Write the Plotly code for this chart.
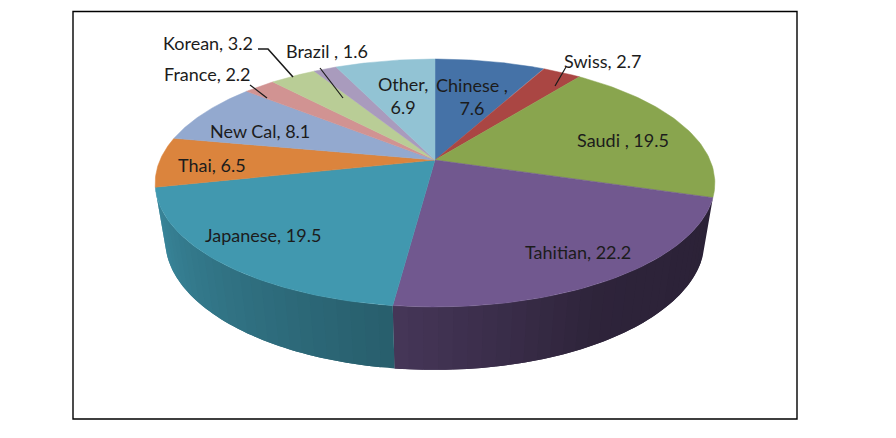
import numpy as np
import plotly.graph_objects as go

# slices, clockwise from 12 o'clock
names = ["Chinese ,", "Swiss,", "Saudi ,", "Tahitian,", "Japanese,", "Thai,",
         "New Cal,", "France,", "Korean,", "Brazil ,", "Other,"]
values = [7.6, 2.7, 19.5, 22.2, 19.5, 6.5, 8.1, 2.2, 3.2, 1.6, 6.9]
colors = ["#4572A7", "#AA4643", "#89A54E", "#71588F", "#4198AF", "#DB843D",
          "#93A9CF", "#D19392", "#B9CD96", "#A99BBD", "#92C3D4"]

# label centres in pixels, same order as names
label_x = [472, 602, 623, 578, 263, 212, 260, 207, 208, 327, 403]
label_y = [96, 61, 140, 252, 235, 165, 131, 74, 43, 51, 95]
line_break = [True, False, False, False, False, False, False, False, False, False, True]

# only these two slices show their side wall
side_slices = ["Tahitian,", "Japanese,"]

# perspective of the pie, fitted to the picture
CX, CY = 435, 160
A, B = 275, 119.7
K = 0.1855   # tilt
H, M = 58.8, 0.036   # thickness and its convergence


def project(theta, z=0.0):
    u, v = np.sin(theta), np.cos(theta)
    w = 1 + K * v + M * z
    return CX + A * u / w, CY + (-B * v + H * z) / w


def shade(hex_color, f):
    r, g, b = [int(hex_color[i:i + 2], 16) for i in (1, 3, 5)]
    return "rgb(%d,%d,%d)" % (r * f, g * f, b * f)


fig = go.Figure()

edges = np.radians(np.cumsum([0] + values) * 3.6)

# side wall, in narrow bands so the shading steps like the original
# each band runs on under the next one, otherwise white seams show
for i, col in enumerate(colors):
    if names[i] not in side_slices:
        continue
    start, end = edges[i], edges[i + 1]
    steps = int(np.degrees(end - start) / 2.5)
    t = np.linspace(start, end, steps + 1)
    for j in range(steps):
        a = t[j]
        b = t[min(j + 2, steps)]
        f = np.interp(np.degrees((t[j] + t[j + 1]) / 2), [100, 150, 187, 258], [0.38, 0.41, 0.62, 0.9])
        arc = np.linspace(a, b, 5)
        x0, y0 = project(arc)
        x1, y1 = project(arc[::-1], 1.0)
        fig.add_trace(go.Scatter(
            x=np.concatenate([x0, x1]), y=np.concatenate([y0, y1]),
            mode="none", fill="toself", fillcolor=shade(col, f),
            hoverinfo="skip", showlegend=False))

# top face
for i, col in enumerate(colors):
    arc = np.linspace(edges[i], edges[i + 1], 60)
    x, y = project(arc)
    fig.add_trace(go.Scatter(
        x=np.concatenate([[CX], x, [CX]]), y=np.concatenate([[CY], y, [CY]]),
        mode="lines", fill="toself", fillcolor=col,
        line=dict(color=col, width=0.5),
        name=names[i], hoverinfo="name", showlegend=False))

# leader lines
leaders = [
    ([258, 268, 293], [49, 49, 77], 1.6),
    ([250, 267], [85, 98], 1.2),
    ([320, 343], [68, 98], 1.2),
    ([566, 555], [67, 86], 1.2),
]
for lx, ly, lw in leaders:
    fig.add_trace(go.Scatter(x=lx, y=ly, mode="lines", line=dict(color="#1a1a1a", width=lw),
                             hoverinfo="skip", showlegend=False))

for i, n in enumerate(names):
    sep = "<br>" if line_break[i] else " "
    fig.add_annotation(x=label_x[i], y=label_y[i], text="%s%s%s" % (n, sep, values[i]),
                       showarrow=False, font=dict(family="Lato", size=18, color="#1c1c1c"))

fig.add_shape(type="rect", x0=73, x1=797, y0=11.5, y1=419, line=dict(color="black", width=1.4))

fig.update_layout(
    width=896, height=438,
    margin=dict(l=0, r=0, t=0, b=0),
    paper_bgcolor="white", plot_bgcolor="white",
    xaxis=dict(range=[0, 896], visible=False, fixedrange=True),
    yaxis=dict(range=[438, 0], visible=False, fixedrange=True),
)

fig.write_html("out.html", config=dict(displayModeBar=False),
               post_script="document.body.style.margin='0';")
